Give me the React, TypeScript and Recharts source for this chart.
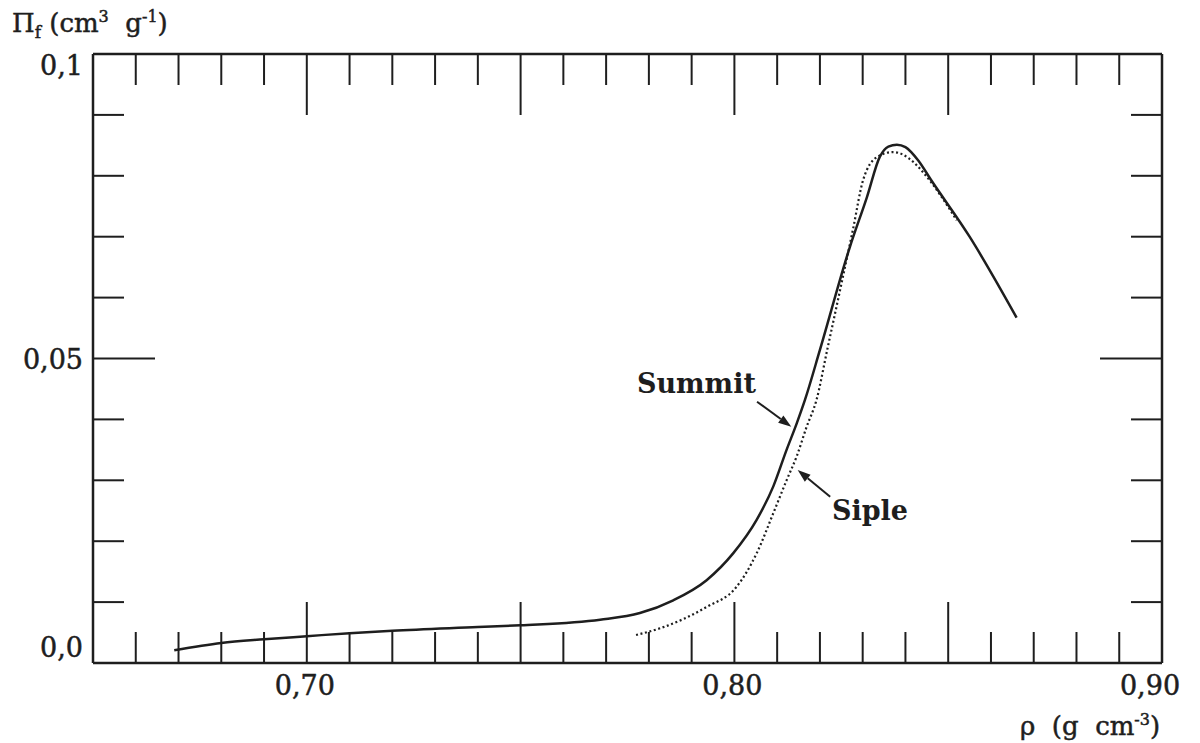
import React from 'react';
import { LineChart, Line, XAxis, YAxis, ReferenceLine, ReferenceDot } from 'recharts';

// Summit (solid) and Siple (dotted) curves
const summitRho = [0.669, 0.68, 0.69, 0.7, 0.71, 0.72, 0.74, 0.75, 0.7686, 0.7779, 0.7857, 0.7935, 0.7997, 0.8052, 0.8091, 0.8122, 0.8146, 0.8165, 0.82, 0.827, 0.831, 0.834, 0.836, 0.838, 0.84, 0.843, 0.846, 0.855, 0.866];
const summitPi = [0.0021, 0.0033, 0.0039, 0.0044, 0.0049, 0.0053, 0.0059, 0.0062, 0.0071, 0.0082, 0.0103, 0.0136, 0.018, 0.0235, 0.029, 0.035, 0.0394, 0.0432, 0.0514, 0.0683, 0.0765, 0.0831, 0.0848, 0.0851, 0.0847, 0.0825, 0.0793, 0.07, 0.0567];

const sipleRho = [0.777, 0.7826, 0.7935, 0.8005, 0.8052, 0.8091, 0.8122, 0.8146, 0.8169, 0.8192, 0.8217, 0.8247, 0.8277, 0.8301, 0.8334, 0.8371, 0.8418, 0.8441, 0.852];
const siplePi = [0.0046, 0.0057, 0.0092, 0.0125, 0.018, 0.0246, 0.03, 0.034, 0.0388, 0.0432, 0.0514, 0.0612, 0.0711, 0.0793, 0.0831, 0.0839, 0.0823, 0.0806, 0.0727];

const xTicks = [0.65, 0.66, 0.67, 0.68, 0.69, 0.7, 0.71, 0.72, 0.73, 0.74, 0.75, 0.76, 0.77, 0.78, 0.79, 0.8, 0.81, 0.82, 0.83, 0.84, 0.85, 0.86, 0.87, 0.88, 0.89, 0.9];
const xLabelValues = [0.7, 0.8, 0.9];
const xLabelText = ['0,70', '0,80', '0,90'];
const yTicks = [0, 0.01, 0.02, 0.03, 0.04, 0.05, 0.06, 0.07, 0.08, 0.09, 0.1];
const yLabelValues = [0, 0.05, 0.1];
const yLabelText = ['0,0', '0,05', '0,1'];

const summitData = summitRho.map((rho, i) => ({ rho, pi: summitPi[i] }));
const sipleData = sipleRho.map((rho, i) => ({ rho, pi: siplePi[i] }));

const INK = '#1e1e1e';
const FONT = '"DejaVu Serif", serif';
const X0 = 93, X1 = 1162, Y0 = 54, Y1 = 663;
const textInk = { fill: INK, stroke: INK, strokeWidth: 0.5 };

const isMajor = (v: number) => Math.round(v * 100) % 5 === 0;
const labelIndex = (vals: number[], v: number) => vals.findIndex((t) => Math.abs(t - v) < 1e-6);

// ticks point inward; bottom/left carry the labels
const makeXTick = (dir: number, withLabel: boolean) => (props: any) => {
  const { x, y, payload } = props;
  const v = payload.value;
  const len = isMajor(v) ? 61 : 31;
  const li = withLabel ? labelIndex(xLabelValues, v) : -1;
  const edge = x < X0 + 2 || x > X1 - 2;
  return (
    <g>
      {!edge && <line x1={x} y1={y} x2={x} y2={y + dir * len} stroke={INK} strokeWidth={2} />}
      {li >= 0 && (
        <text x={Math.min(x - 2, X1 - 12)} y={y + 32} textAnchor="middle" fontFamily={FONT} fontSize={27} {...textInk}>
          {xLabelText[li]}
        </text>
      )}
    </g>
  );
};

const makeYTick = (dir: number, withLabel: boolean) => (props: any) => {
  const { x, y, payload } = props;
  const v = payload.value;
  const len = Math.abs(v - 0.05) < 1e-6 ? 62 : 31;
  const li = withLabel ? labelIndex(yLabelValues, v) : -1;
  const edge = y < Y0 + 2 || y > Y1 - 2;
  return (
    <g>
      {!edge && <line x1={x} y1={y} x2={x + dir * len} y2={y} stroke={INK} strokeWidth={2} />}
      {li >= 0 && (
        <text x={x - 10} y={Math.max(75, Math.min(657, y + 10))} textAnchor="end" fontFamily={FONT} fontSize={27} {...textInk}>
          {yLabelText[li]}
        </text>
      )}
    </g>
  );
};

const Arrow = (p: any) => {
  const { x1, y1, x2, y2 } = p;
  const a = Math.atan2(y2 - y1, x2 - x1);
  const L = 13, W = 4.5;
  const bx = x2 - L * Math.cos(a), by = y2 - L * Math.sin(a);
  const pts = `${x2},${y2} ${bx - W * Math.sin(a)},${by + W * Math.cos(a)} ${bx + W * Math.sin(a)},${by - W * Math.cos(a)}`;
  return (
    <g>
      <line x1={x1} y1={y1} x2={bx} y2={by} stroke={INK} strokeWidth={2} />
      <polygon points={pts} fill={INK} />
    </g>
  );
};

const makeTag = (label: string) => (p: any) => (
  <text x={p.cx} y={p.cy} fontFamily={FONT} fontWeight="bold" fontSize={27} fill={INK}>
    {label}
  </text>
);

const axisLine = { stroke: INK, strokeWidth: 2.5 };

export default function App() {
  return (
    <div style={{ position: 'absolute', left: 0, top: 0, background: '#fff' }}>
      <LineChart width={1200} height={743} margin={{ top: 0, right: 0, bottom: 0, left: 0 }}>
        <XAxis xAxisId="b" dataKey="rho" type="number" domain={[0.65, 0.9]} ticks={xTicks} interval={0}
          orientation="bottom" height={80} axisLine={axisLine} tickLine={false} tickSize={0} tickMargin={0}
          tick={makeXTick(-1, true)} allowDataOverflow />
        <XAxis xAxisId="t" dataKey="rho" type="number" domain={[0.65, 0.9]} ticks={xTicks} interval={0}
          orientation="top" height={54} axisLine={axisLine} tickLine={false} tickSize={0} tickMargin={0}
          tick={makeXTick(1, false)} allowDataOverflow />
        <YAxis yAxisId="l" type="number" domain={[0, 0.1]} ticks={yTicks} interval={0}
          orientation="left" width={93} axisLine={axisLine} tickLine={false} tickSize={0} tickMargin={0}
          tick={makeYTick(1, true)} allowDataOverflow />
        <YAxis yAxisId="r" type="number" domain={[0, 0.1]} ticks={yTicks} interval={0}
          orientation="right" width={38} axisLine={axisLine} tickLine={false} tickSize={0} tickMargin={0}
          tick={makeYTick(-1, false)} allowDataOverflow />

        <Line xAxisId="b" yAxisId="l" data={summitData} dataKey="pi" type="monotone" stroke={INK}
          strokeWidth={2.5} dot={false} isAnimationActive={false} />
        <Line xAxisId="b" yAxisId="l" data={sipleData} dataKey="pi" type="monotone" stroke={INK}
          strokeWidth={2.2} strokeDasharray="2 2.6" dot={false} isAnimationActive={false} />

        <ReferenceLine xAxisId="b" yAxisId="l" segment={[{ x: 0.8053, y: 0.0429 }, { x: 0.8133, y: 0.0388 }]} shape={Arrow} />
        <ReferenceLine xAxisId="b" yAxisId="l" segment={[{ x: 0.8224, y: 0.0273 }, { x: 0.8148, y: 0.0317 }]} shape={Arrow} />
        <ReferenceDot xAxisId="b" yAxisId="l" x={0.7772} y={0.0443} r={0} shape={makeTag('Summit')} />
        <ReferenceDot xAxisId="b" yAxisId="l" x={0.8228} y={0.0235} r={0} shape={makeTag('Siple')} />

        <text x={12} y={32} fontFamily={FONT} fontSize={26} {...textInk} style={{ whiteSpace: 'pre' }}>
          <tspan>Π</tspan>
          <tspan dy={6} fontSize={17}>f</tspan>
          <tspan dy={-6}> (cm</tspan>
          <tspan dy={-10} fontSize={16}>3</tspan>
          <tspan dy={10}>  g</tspan>
          <tspan dy={-10} fontSize={16}>-1</tspan>
          <tspan dy={10}>)</tspan>
        </text>
        <text x={1020} y={735} fontFamily={FONT} fontSize={26} {...textInk} style={{ whiteSpace: 'pre' }}>
          <tspan>ρ  (g  cm</tspan>
          <tspan dy={-10} fontSize={16}>-3</tspan>
          <tspan dy={10}>)</tspan>
        </text>
      </LineChart>
    </div>
  );
}
